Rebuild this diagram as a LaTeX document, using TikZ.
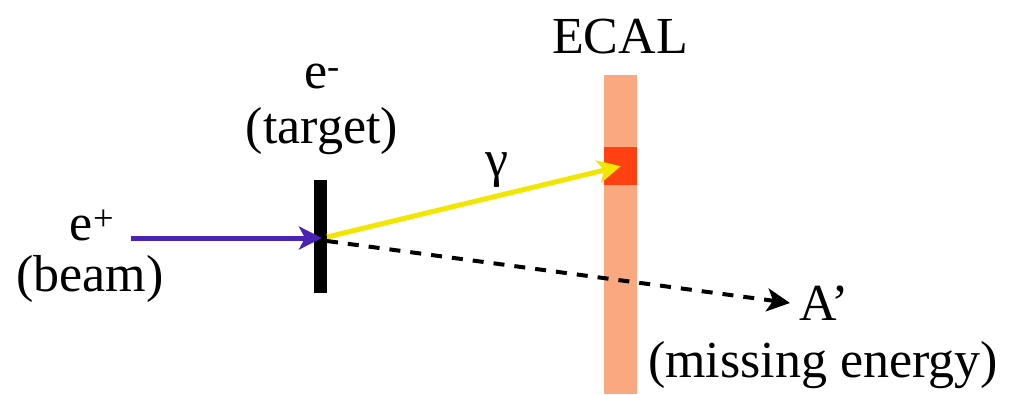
\documentclass[tikz,border=0pt]{standalone}
\usepackage{fontspec}
\setmainfont{Liberation Serif}
\newfontfamily\timesfont{Liberation Serif}
\usetikzlibrary{arrows.meta,positioning}

\definecolor{beamcol}{RGB}{75,35,180}
\definecolor{gammacol}{RGB}{242,230,0}
\definecolor{ecalcol}{RGB}{250,168,128}
\definecolor{hitcol}{RGB}{255,64,16}

\begin{document}
\begin{tikzpicture}[x=1pt, y=-1pt, >={Stealth[length=23pt,width=23pt,inset=6pt]}]
    \tikzset{lbl/.style={anchor=base, inner sep=0pt, font=\timesfont\fontsize{52}{56}\selectfont}}
    \useasboundingbox (0,0) rectangle (1009,394);

    % calorimeter and hit
    \node [fill=ecalcol, minimum width=33pt, minimum height=319pt, inner sep=0pt, anchor=north west] (ecal) at (604,75) {};
    \node [fill=hitcol, minimum width=33pt, minimum height=38pt, inner sep=0pt, anchor=north west] (hit) at (604,147) {};
    \node [lbl] (ecallbl) at (620,53) {ECAL};

    % target
    \node [fill=black, minimum width=13pt, minimum height=113pt, inner sep=0pt] (target) at (320.5,236.5) {};
    \node [lbl] (electron) at (322,88) {e\textsuperscript{-}};
    \node [lbl] (targetlbl) at (322,143) {(target)};

    % beam
    \coordinate (beamstart) at (131,238);
    \coordinate (vtx) at (322,238);
    \node [lbl] (positron) at (92,240) {e\textsuperscript{+}};
    \node [lbl] (beamlbl) at (90,291) {(beam)};

    % outgoing
    \coordinate (vtxa) at (327,237);
    \coordinate (vtxb) at (327,241);
    \coordinate (aend) at (790,303);
    \node [lbl] (gamma) at (497,176) {γ};
    \node [lbl, anchor=base west] (aprime) at (799,320) {A’};
    \node [lbl] (missing) at (823,377) {(missing energy)};

    \draw [->, beamcol, line width=5pt] (beamstart) -- (vtx);
    \draw [->, gammacol, line width=5pt] (vtxa) -- (hit.center);
    \draw [->, line width=4pt, dash pattern=on 11pt off 10pt] (vtxb) -- (aend);
\end{tikzpicture}
\end{document}
